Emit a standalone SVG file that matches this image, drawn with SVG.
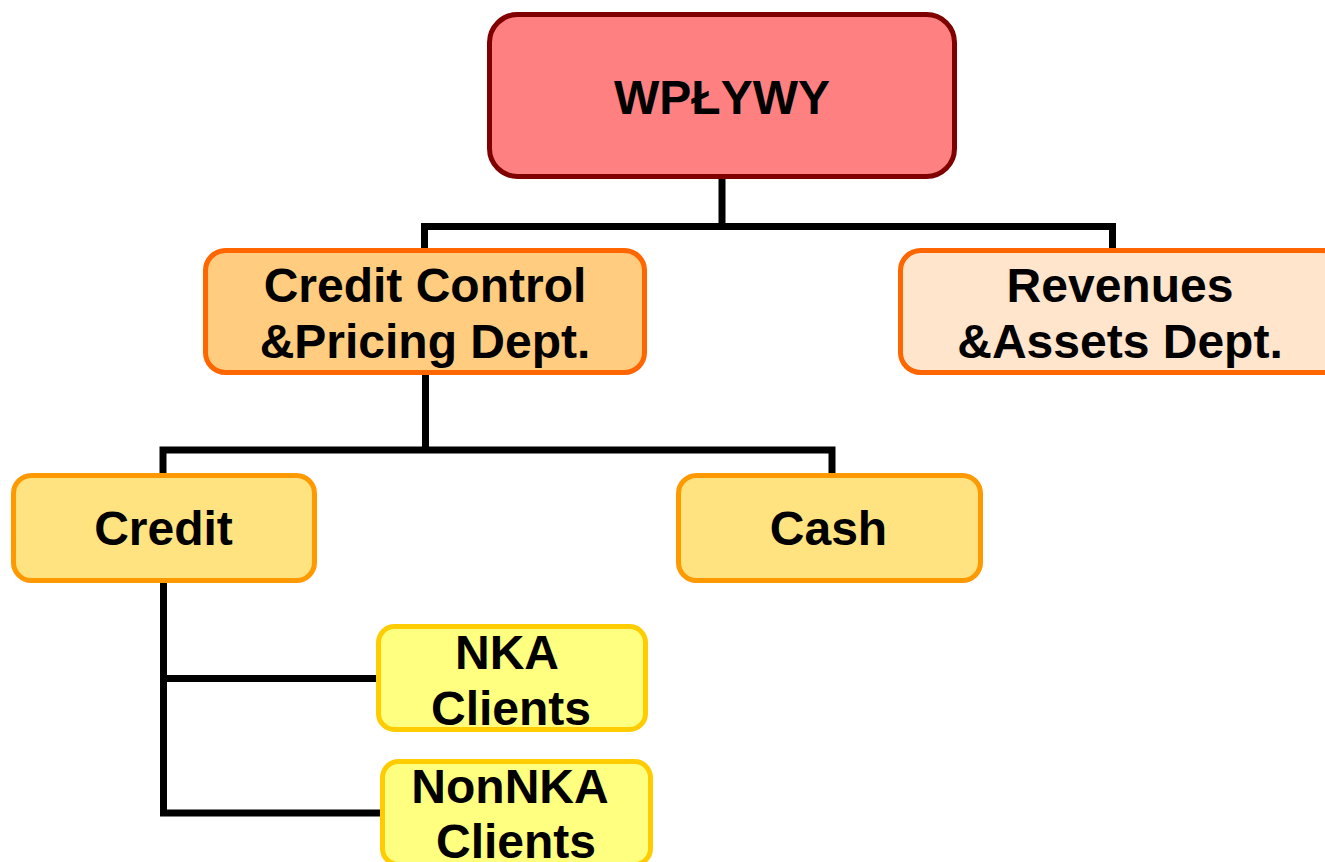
<svg xmlns="http://www.w3.org/2000/svg" width="1325" height="862" viewBox="0 0 1325 862">
<style>
.t{font-family:"Liberation Sans",Arial,sans-serif;font-weight:bold;font-size:48px;fill:#000;text-anchor:middle}
.c{fill:none;stroke:#000;stroke-width:7;stroke-linecap:square}
.b{stroke-width:5}
</style>
<rect width="1325" height="862" fill="#fff"/>
<g id="connectors">
<path class="c" d="M722,179 V226.5 M424.5,226.5 H1112.5 M424.5,226.5 V250 M1112.5,226.5 V250"/>
<path class="c" d="M425.5,375 V450 M163,450 H832 M163,450 V474 M832,450 V474"/>
<path class="c" d="M163.5,583 V813 M163.5,678.5 H377 M163.5,813 H381"/>
</g>
<g id="wplywy">
<rect class="b" x="489.5" y="14.5" width="465" height="162" rx="28" fill="#FF8080" stroke="#800000"/>
<text class="t" x="722" y="114">WPŁYWY</text>
</g>
<g id="credit-control">
<rect class="b" x="205.5" y="250.5" width="439" height="122" rx="20" fill="#FFCC80" stroke="#FF6600"/>
<text class="t" x="425" y="302">Credit Control</text>
<text class="t" x="425" y="358">&amp;Pricing Dept.</text>
</g>
<g id="revenues">
<rect class="b" x="900.5" y="250.5" width="442" height="122" rx="20" fill="#FFE5CC" stroke="#FF6600"/>
<text class="t" x="1120" y="302">Revenues</text>
<text class="t" x="1120" y="358">&amp;Assets Dept.</text>
</g>
<g id="credit">
<rect class="b" x="13.5" y="475.5" width="301" height="105" rx="18" fill="#FFE380" stroke="#FF9900"/>
<text class="t" x="163.5" y="545">Credit</text>
</g>
<g id="cash">
<rect class="b" x="678.5" y="475.5" width="302" height="105" rx="18" fill="#FFE380" stroke="#FF9900"/>
<text class="t" x="828.5" y="545">Cash</text>
</g>
<g id="nka">
<rect class="b" x="378.5" y="626.5" width="267" height="103" rx="16" fill="#FFFF80" stroke="#FFCC00"/>
<text class="t" x="507" y="669">NKA</text>
<text class="t" x="511" y="725">Clients</text>
</g>
<g id="nonnka">
<rect class="b" x="382.5" y="761.5" width="268" height="103" rx="16" fill="#FFFF80" stroke="#FFCC00"/>
<text class="t" x="510" y="803">NonNKA</text>
<text class="t" x="516" y="858">Clients</text>
</g>
</svg>
